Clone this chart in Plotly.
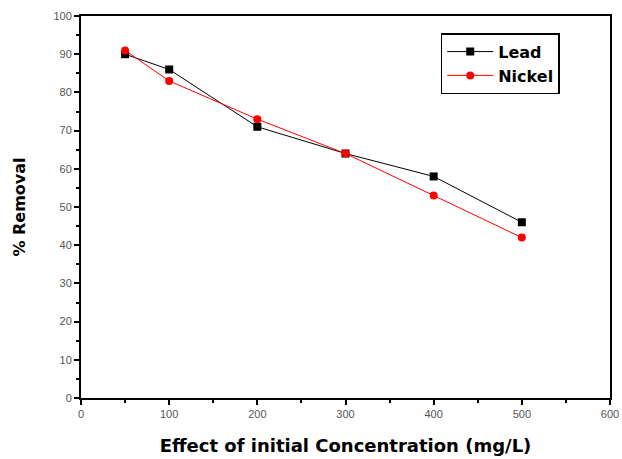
import plotly.graph_objects as go

concentration = [50, 100, 200, 300, 400, 500]
lead_removal = [90, 86, 71, 64, 58, 46]
nickel_removal = [91, 83, 73, 64, 53, 42]

fig = go.Figure()
fig.add_trace(go.Scatter(
    x=concentration, y=lead_removal, name="<b>Lead</b>", mode="lines+markers",
    line=dict(color="black", width=1),
    marker=dict(symbol="square", size=8, color="black"),
))
fig.add_trace(go.Scatter(
    x=concentration, y=nickel_removal, name="<b>Nickel</b>", mode="lines+markers",
    line=dict(color="red", width=1),
    marker=dict(symbol="circle", size=8, color="red"),
))

axis_common = dict(
    showgrid=False, zeroline=False, showline=True, linecolor="black", linewidth=2,
    mirror=True, ticks="outside", ticklen=5, tickwidth=1.5, tickcolor="black",
    tickfont=dict(family="Arial", size=11, color="#555"), automargin=False,
)
fig.update_xaxes(
    range=[0, 600], dtick=100, tick0=0,
    minor=dict(dtick=50, ticks="outside", ticklen=3, tickwidth=1.5, tickcolor="black"),
    title=dict(text="<b>Effect of initial Concentration (mg/L)</b>",
               font=dict(family="DejaVu Sans", size=18, color="black"), standoff=20),
    **axis_common,
)
fig.update_yaxes(
    range=[0, 100], dtick=10, tick0=0,
    minor=dict(dtick=5, ticks="outside", ticklen=3, tickwidth=1.5, tickcolor="black"),
    title=dict(text="<b>% Removal</b>",
               font=dict(family="DejaVu Sans", size=16, color="black"), standoff=24),
    **axis_common,
)
fig.update_layout(
    width=622, height=459,
    margin=dict(l=81, r=12, t=16, b=61),
    plot_bgcolor="white", paper_bgcolor="white",
    legend=dict(
        x=0.68, y=0.955, xanchor="left", yanchor="top",
        bordercolor="black", borderwidth=1.5, bgcolor="white",
        font=dict(family="DejaVu Sans", size=16, color="black"),
        tracegroupgap=0, itemwidth=46,
    ),
)
fig.write_html("out.html", config={"displayModeBar": False},
               post_script="document.body.style.margin='0';")
